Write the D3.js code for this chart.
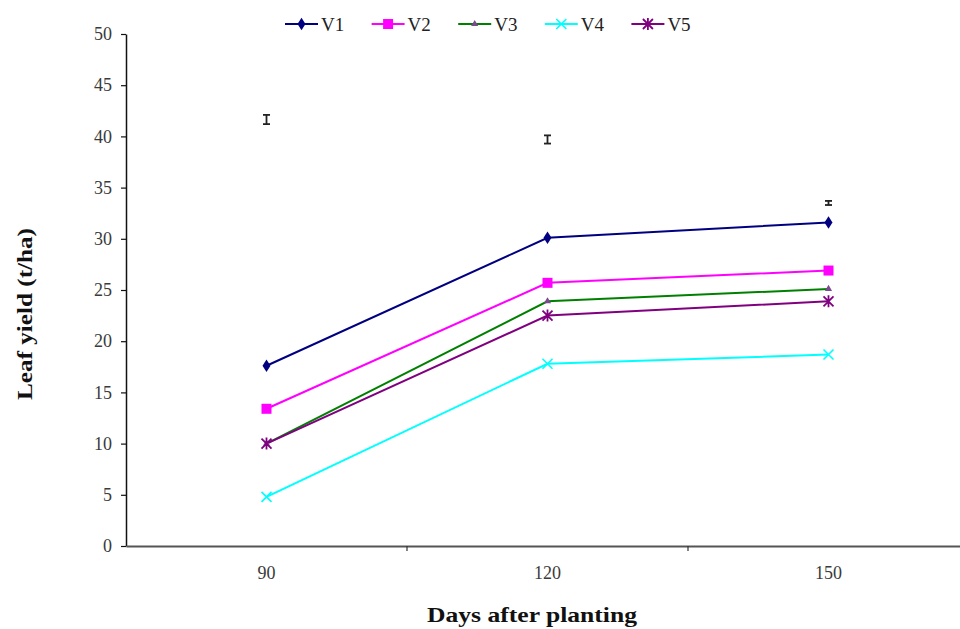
<!DOCTYPE html>
<html><head><meta charset="utf-8">
<script src="https://cdn.jsdelivr.net/npm/d3@7"></script>
<style>body{margin:0;background:#fff}svg{display:block}</style>
</head><body>
<svg id="c" width="960" height="629"></svg>
<script>
const categories = ["90", "120", "150"];
const seriesNames = ["V1", "V2", "V3", "V4", "V5"];
const V1 = [17.6, 30.1, 31.6];
const V2 = [13.4, 25.7, 26.9];
const V3 = [10.0, 23.9, 25.1];
const V4 = [4.8, 17.8, 18.7];
const V5 = [10.0, 22.5, 23.9];
const errCenter = [41.65, 39.7, 33.5];
const errHalf = [0.45, 0.4, 0.2];
const yTicks = [0, 5, 10, 15, 20, 25, 30, 35, 40, 45, 50];
const colors = ["#000080", "#ff00ff", "#008000", "#00ffff", "#800080"];

const values = [V1, V2, V3, V4, V5];
const svg = d3.select("#c");
const serif = "'Liberation Serif', 'DejaVu Serif', serif";

const x = d3.scaleBand().domain(categories).range([126, 969]).padding(0);
const y = d3.scaleLinear().domain([0, 50]).range([546, 34]);

// y axis
const ya = svg.append("g").attr("transform", "translate(126,0)")
  .call(d3.axisLeft(y).tickValues(yTicks).tickSize(5).tickPadding(9).tickSizeOuter(0));
ya.select(".domain").attr("stroke", "#111").attr("stroke-width", 1.5);
ya.selectAll(".tick line").attr("stroke", "#111").attr("stroke-width", 1.2);
ya.selectAll("text").attr("font-family", serif).attr("font-size", 18).attr("fill", "#3a3a3a");

// x axis
const xa = svg.append("g").attr("transform", "translate(0,546)")
  .call(d3.axisBottom(x).tickSize(0).tickPadding(20).tickSizeOuter(0));
xa.select(".domain").attr("stroke", "#555").attr("stroke-width", 2);
xa.selectAll("text").attr("font-family", serif).attr("font-size", 18).attr("fill", "#3a3a3a");
// separator ticks between categories
xa.selectAll(".sep").data(categories.slice(1)).enter().append("line")
  .attr("x1", d => x(d)).attr("x2", d => x(d)).attr("y1", 0).attr("y2", 5)
  .attr("stroke", "#333").attr("stroke-width", 1.2);

// axis titles
svg.append("text").attr("x", 532).attr("y", 622).attr("text-anchor", "middle")
  .attr("font-family", serif).attr("font-weight", "bold").attr("font-size", 22)
  .attr("textLength", 210).attr("lengthAdjust", "spacingAndGlyphs")
  .attr("fill", "#111").text("Days after planting");
svg.append("text").attr("transform", "translate(32,314) rotate(-90)").attr("text-anchor", "middle")
  .attr("font-family", serif).attr("font-weight", "bold").attr("font-size", 22)
  .attr("textLength", 172).attr("lengthAdjust", "spacingAndGlyphs")
  .attr("fill", "#111").text("Leaf yield (t/ha)");

const cx = c => x(c) + x.bandwidth() / 2;

function marker(g, i, px, py) {
  const col = colors[i];
  if (i === 0) {
    g.append("path").attr("d", d3.symbol(d3.symbolDiamond, 50)()).attr("transform", `translate(${px},${py}) scale(1.05,0.95)`).attr("fill", col);
  } else if (i === 1) {
    g.append("rect").attr("x", px - 5).attr("y", py - 5).attr("width", 10).attr("height", 10).attr("fill", col);
  } else if (i === 2) {
    g.append("path").attr("d", d3.symbol(d3.symbolTriangle, 22)()).attr("transform", `translate(${px},${py})`).attr("fill", "#7b4a8e");
  } else if (i === 3) {
    const s = 5;
    g.append("path").attr("d", `M${px - s},${py - s}L${px + s},${py + s}M${px - s},${py + s}L${px + s},${py - s}`)
      .attr("stroke", col).attr("stroke-width", 1.6).attr("fill", "none");
  } else {
    const s = 5;
    g.append("path").attr("d", `M${px - s},${py - s}L${px + s},${py + s}M${px - s},${py + s}L${px + s},${py - s}M${px},${py - 6}L${px},${py + 6}`)
      .attr("stroke", col).attr("stroke-width", 1.8).attr("fill", "none");
  }
}

// lines
const line = d3.line().x((d, j) => cx(categories[j])).y(d => y(d));
values.forEach((vals, i) => {
  svg.append("path").datum(vals).attr("d", line).attr("fill", "none")
    .attr("stroke", colors[i]).attr("stroke-width", 2);
});
values.forEach((vals, i) => {
  const g = svg.append("g");
  vals.forEach((v, j) => marker(g, i, cx(categories[j]), y(v)));
});

// error bars
const eg = svg.append("g").attr("stroke", "#222").attr("stroke-width", 1.8);
categories.forEach((c, j) => {
  const px = cx(c);
  const t = y(errCenter[j] + errHalf[j]), b = y(errCenter[j] - errHalf[j]);
  eg.append("line").attr("x1", px).attr("x2", px).attr("y1", t).attr("y2", b);
  eg.append("line").attr("x1", px - 3.5).attr("x2", px + 3.5).attr("y1", t).attr("y2", t);
  eg.append("line").attr("x1", px - 3.5).attr("x2", px + 3.5).attr("y1", b).attr("y2", b);
});

// legend
const lg = svg.append("g");
seriesNames.forEach((n, i) => {
  const lx = 285 + i * 86.6, ly = 24;
  lg.append("line").attr("x1", lx).attr("x2", lx + 33).attr("y1", ly).attr("y2", ly)
    .attr("stroke", colors[i]).attr("stroke-width", 2);
  marker(lg, i, lx + 16.5, ly);
  lg.append("text").attr("x", lx + 36).attr("y", ly + 6.5).attr("font-family", serif)
    .attr("font-size", 19).attr("fill", "#222").text(n);
});
</script>
</body></html>
